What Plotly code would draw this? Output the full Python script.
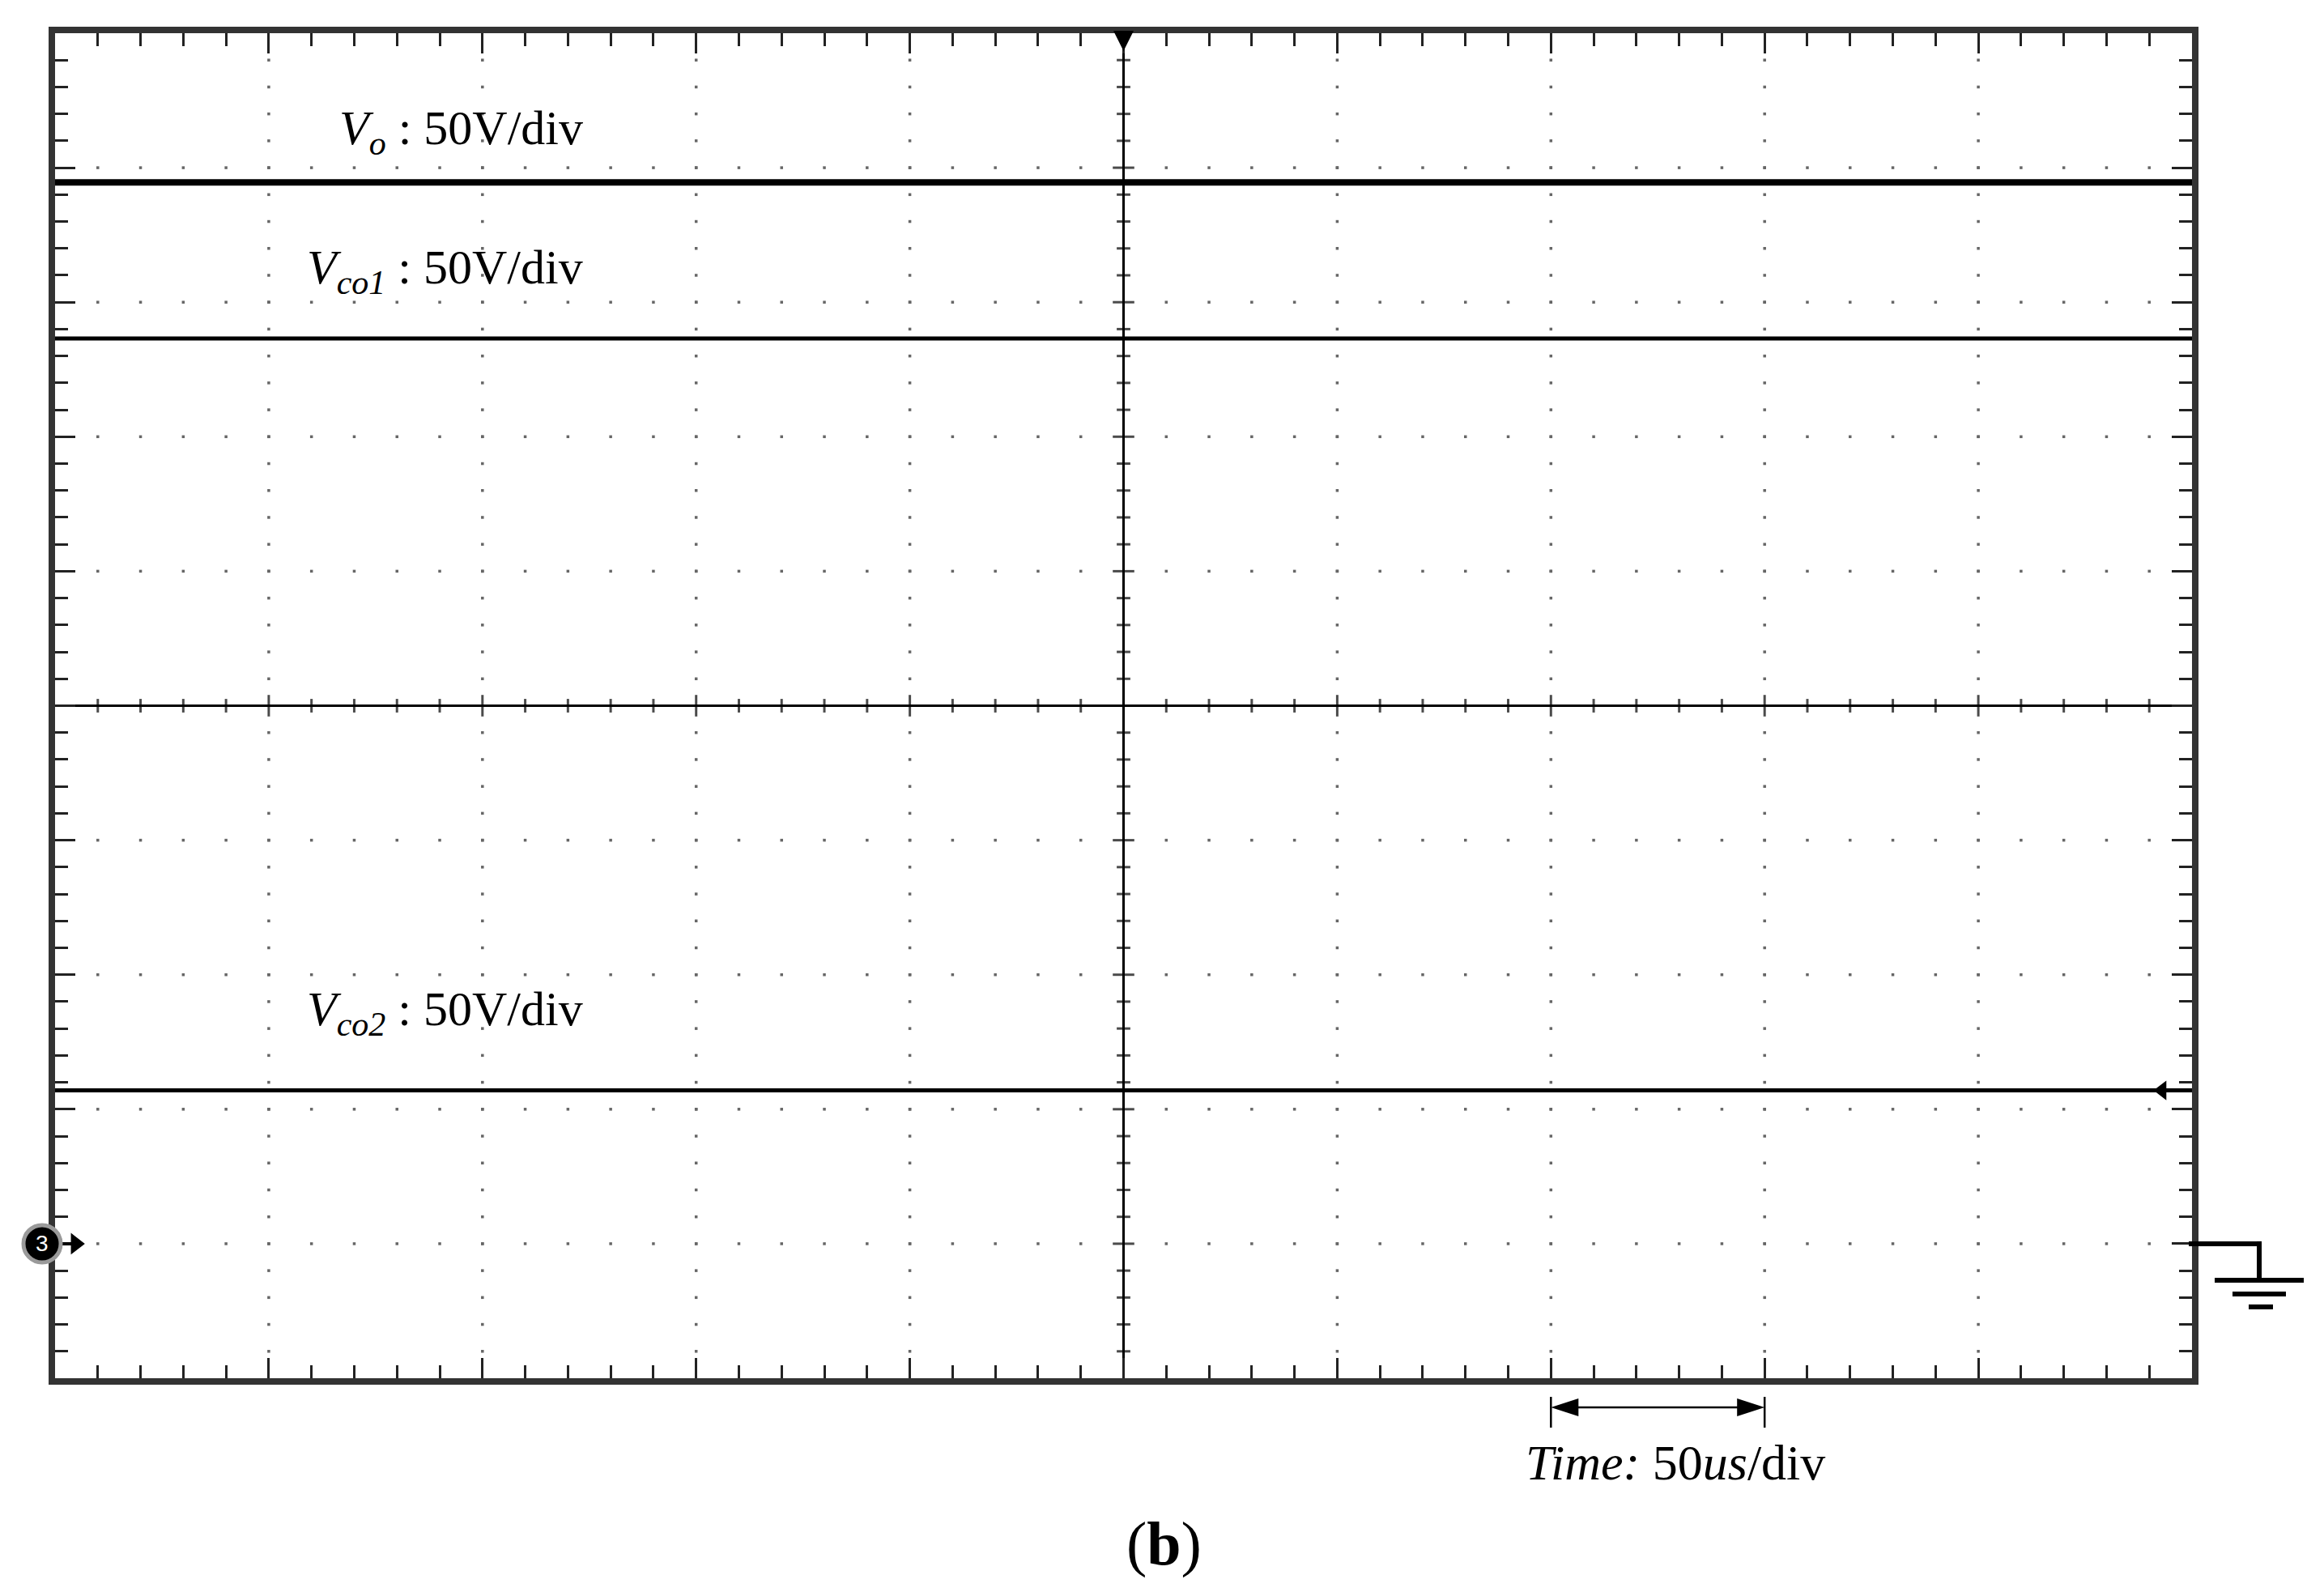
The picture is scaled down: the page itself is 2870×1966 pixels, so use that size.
import numpy as np
import plotly.graph_objects as go

US_PER_DIV = 50
time_us = [-250, 250]
vo_div = [3.89, 3.89]
vco1_div = [2.73, 2.73]
vco2_div = [-2.86, -2.86]
ch3_ground_div = -4.0
trig_level_div = -2.86

trace_labels = [
    "<i>V<sub>o</sub></i> : 50V/div",
    "<i>V<sub>co1</sub></i> : 50V/div",
    "<i>V<sub>co2</sub></i> : 50V/div",
]
label_y = [0.927, 0.823, 0.272]          # paper coords
time_label = "<i>Time:</i> 50<i>us</i>/div"
panel_label = "(<b>b</b>)"

W, H = 2870, 1966
L, R, T, B = 68, 163, 41, 264
PW, PH = W - L - R, H - T - B
SERIF = "Liberation Serif, Times New Roman, serif"


def py(ydiv):
    return (ydiv + 5) / 10.0


# graticule: dotted grid on the major lines, cross ticks on the centre axes
maj_x = [v for v in np.arange(-200, 201, US_PER_DIV) if v != 0]
maj_y = [v for v in np.arange(-4, 5, 1) if v != 0]
min_x = [v for v in np.arange(-240, 241, 10) if v != 0]
min_y = [round(v, 1) for v in np.arange(-4.8, 4.81, 0.2) if abs(v) > 1e-9]

dot_x, dot_y = [], []
for xv in maj_x:
    for yv in min_y:
        dot_x.append(xv)
        dot_y.append(yv)
for yv in maj_y:
    for xv in min_x:
        dot_x.append(xv)
        dot_y.append(yv)

fig = go.Figure()

fig.add_trace(go.Scatter(
    x=dot_x, y=dot_y, mode="markers", hoverinfo="skip",
    marker=dict(symbol="square", size=3.5, color="#666"),
))
fig.add_trace(go.Scatter(
    x=[0] * len(min_y), y=min_y, mode="markers", hoverinfo="skip",
    marker=dict(symbol="line-ew", size=[19 if abs(v - round(v)) < 1e-6 else 12 for v in min_y],
                line=dict(width=3, color="black")),
))
fig.add_trace(go.Scatter(
    x=min_x, y=[0] * len(min_x), mode="markers", hoverinfo="skip",
    marker=dict(symbol="line-ns", size=[19 if v % US_PER_DIV == 0 else 12 for v in min_x],
                line=dict(width=3, color="black")),
))

# the three traces
for yv, w in [(vo_div, 8), (vco1_div, 5), (vco2_div, 5)]:
    fig.add_trace(go.Scatter(x=time_us, y=yv, mode="lines",
                             line=dict(color="black", width=w), hoverinfo="skip"))

# channel 3 ground marker: connector + arrowhead (circle badge is a shape below)
fig.add_trace(go.Scatter(
    x=[-253, -245], y=[ch3_ground_div] * 2, mode="lines",
    line=dict(color="black", width=4), hoverinfo="skip",
))
fig.add_trace(go.Scatter(
    x=[-245.2], y=[ch3_ground_div], mode="markers", cliponaxis=False, hoverinfo="skip",
    marker=dict(symbol="triangle-right", size=23, color="black"),
))

# trigger position (top) and trigger level (right)
fig.add_trace(go.Scatter(
    x=[0], y=[4.868], mode="markers", cliponaxis=False, hoverinfo="skip",
    marker=dict(symbol="arrow-down", size=25, color="black"),
))
fig.add_trace(go.Scatter(
    x=[243], y=[trig_level_div], mode="markers", cliponaxis=False, hoverinfo="skip",
    marker=dict(symbol="triangle-left", size=21, color="black"),
))

shapes = []

# time/div arrow under the screen, one division wide
arrow_y = py(-5.217)
ax0, ax1 = 2 * US_PER_DIV, 3 * US_PER_DIV
head_len = 34 / PW * 10 * US_PER_DIV
head_h = 11 / PH
shapes.append(dict(type="line", xref="x", yref="paper", x0=ax0 + head_len / 2, x1=ax1 - head_len / 2,
                   y0=arrow_y, y1=arrow_y, line=dict(color="black", width=2.5)))
for tip, base in [(ax0, ax0 + head_len), (ax1, ax1 - head_len)]:
    shapes.append(dict(type="path", xref="x", yref="paper",
                       path=f"M {tip},{arrow_y} L {base},{arrow_y + head_h} L {base},{arrow_y - head_h} Z",
                       fillcolor="black", line=dict(width=0)))
    shapes.append(dict(type="line", xref="x", yref="paper", x0=tip, x1=tip,
                       y0=-23 / PH, y1=-61 / PH, line=dict(color="black", width=2.5)))

# ground symbol right of the screen
g = py(ch3_ground_div)
for x0, x1, dy in [(-4, 83, 0), (28, 138, 45), (50, 116, 62), (70, 100, 78)]:
    shapes.append(dict(type="line", xref="paper", yref="paper",
                       x0=1 + x0 / PW, x1=1 + x1 / PW, y0=g - dy / PH, y1=g - dy / PH,
                       line=dict(color="black", width=6)))
shapes.append(dict(type="line", xref="paper", yref="paper", x0=1 + 83 / PW, x1=1 + 83 / PW,
                   y0=g + 3 / PH, y1=g - 45 / PH, line=dict(color="black", width=6)))

# channel 3 badge on the left edge
bx = -16 / PW
shapes.append(dict(type="circle", xref="paper", yref="paper",
                   x0=bx - 23 / PW, x1=bx + 23 / PW, y0=g - 23 / PH, y1=g + 23 / PH,
                   fillcolor="black", line=dict(color="#9a9a9a", width=5)))

annotations = []
for txt, yv in zip(trace_labels, label_y):
    annotations.append(dict(text=txt, x=0.2478, y=yv, xref="paper", yref="paper",
                            xanchor="right", yanchor="middle", showarrow=False,
                            font=dict(family=SERIF, size=60, color="black")))
annotations.append(dict(text=time_label, x=0.6874, y=-0.0626, xref="paper", yref="paper",
                        xanchor="left", yanchor="middle", showarrow=False,
                        font=dict(family=SERIF, size=62, color="black")))
annotations.append(dict(text=panel_label, x=0.5188, y=-0.1234, xref="paper", yref="paper",
                        xanchor="center", yanchor="middle", showarrow=False,
                        font=dict(family=SERIF, size=76, color="black")))
annotations.append(dict(text="3", x=bx, y=g, xref="paper", yref="paper",
                        xanchor="center", yanchor="middle", showarrow=False,
                        font=dict(family="Liberation Sans, Arial", size=28, color="white")))

axis_common = dict(
    showline=True, linewidth=8, linecolor="#333", mirror="allticks",
    ticks="inside", ticklen=25, tickwidth=3, tickcolor="#222",
    showticklabels=False, showgrid=False, zeroline=True, zerolinewidth=3,
    zerolinecolor="black", layer="below traces", fixedrange=True,
)

fig.update_layout(
    width=W, height=H, margin=dict(l=L, r=R, t=T, b=B),
    paper_bgcolor="white", plot_bgcolor="white", showlegend=False,
    xaxis=dict(range=[-250, 250], tick0=0, dtick=US_PER_DIV,
               minor=dict(ticks="inside", ticklen=16, tickwidth=3, tickcolor="#222",
                          dtick=10, showgrid=False),
               **axis_common),
    yaxis=dict(range=[-5, 5], tick0=0, dtick=1,
               minor=dict(ticks="inside", ticklen=16, tickwidth=3, tickcolor="#222",
                          dtick=0.2, showgrid=False),
               **axis_common),
    shapes=shapes, annotations=annotations,
)

fig.write_html("out.html", config={"displayModeBar": False},
               post_script="document.body.style.margin='0';")
